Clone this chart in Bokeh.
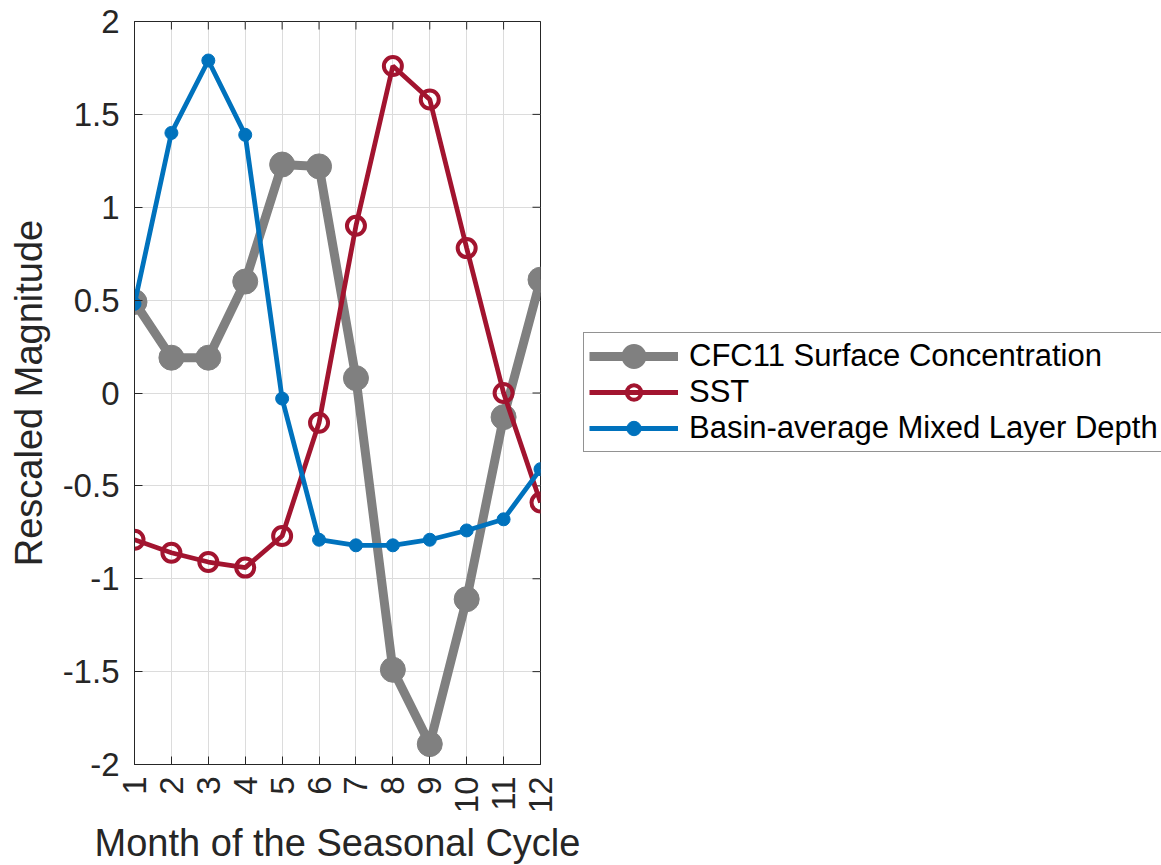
from bokeh.plotting import figure
from bokeh.models import Range1d, FixedTicker, Legend, LegendItem
from bokeh.embed import file_html
from bokeh.resources import INLINE
import math

months = list(range(1, 13))
cfc11 = [0.49, 0.19, 0.19, 0.60, 1.23, 1.22, 0.08, -1.49, -1.89, -1.11, -0.13, 0.61]
sst = [-0.79, -0.86, -0.91, -0.94, -0.77, -0.16, 0.90, 1.76, 1.58, 0.78, 0.00, -0.59]
mld = [0.48, 1.40, 1.79, 1.39, -0.03, -0.79, -0.82, -0.82, -0.79, -0.74, -0.68, -0.41]
y_ticks = [-2, -1.5, -1, -0.5, 0, 0.5, 1, 1.5, 2]
y_tick_labels = {-2: "-2", -1.5: "-1.5", -1: "-1", -0.5: "-0.5", 0: "0", 0.5: "0.5", 1: "1", 1.5: "1.5", 2: "2"}

FONT = "Liberation Sans"
AX = "#262626"

p = figure(output_backend="svg", toolbar_location=None,
           x_range=Range1d(months[0], months[-1]), y_range=Range1d(y_ticks[0], y_ticks[-1]),
           frame_width=406, frame_height=743,
           min_border_left=134, min_border_top=21, min_border_right=621, min_border_bottom=100,
           x_axis_label="Month of the Seasonal Cycle", y_axis_label="Rescaled Magnitude")

p.background_fill_color = "white"
p.border_fill_color = "white"
p.outline_line_color = AX
p.outline_line_width = 1

for ax in (p.xaxis[0], p.yaxis[0]):
    ax.axis_line_color = AX
    ax.major_tick_line_color = AX
    ax.major_tick_in = 8
    ax.major_tick_out = 0
    ax.minor_tick_line_color = None
    ax.major_label_text_font = FONT
    ax.major_label_text_font_size = "33px"
    ax.major_label_text_color = AX
    ax.axis_label_text_font = FONT
    ax.axis_label_text_font_size = "38px"
    ax.axis_label_text_font_style = "normal"
    ax.axis_label_text_color = AX

p.xaxis[0].ticker = FixedTicker(ticks=months)
p.xaxis[0].major_label_orientation = math.pi / 2
p.xaxis[0].major_label_standoff = 12
p.xaxis[0].axis_label_standoff = 6
p.yaxis[0].ticker = FixedTicker(ticks=y_ticks)
p.yaxis[0].major_label_overrides = y_tick_labels
p.yaxis[0].major_label_standoff = 15
p.yaxis[0].axis_label_standoff = 10

p.xgrid.ticker = FixedTicker(ticks=months)
p.ygrid.ticker = FixedTicker(ticks=y_ticks)
for g in (p.xgrid[0], p.ygrid[0]):
    g.grid_line_color = "#dcdcdc"
    g.grid_line_width = 1

# inward tick marks on the top and right edges of the box (half of each dash is clipped by the frame)
p.scatter(months, [y_ticks[-1]] * len(months), marker="dash", angle=math.pi / 2, size=16,
          line_color=AX, line_width=1)
p.scatter([months[-1]] * len(y_ticks), y_ticks, marker="dash", size=16,
          line_color=AX, line_width=1)

GRAY = "#808080"
RED = "#A2142F"
BLUE = "#0072BD"

l1 = p.line(months, cfc11, line_color=GRAY, line_width=9)
s1 = p.scatter(months, cfc11, size=25, marker="circle", fill_color=GRAY, line_color=GRAY)
l2 = p.line(months, sst, line_color=RED, line_width=4.8)
s2 = p.scatter(months, sst, size=18, marker="circle", fill_color=None, line_color=RED, line_width=4)
l3 = p.line(months, mld, line_color=BLUE, line_width=4.8)
s3 = p.scatter(months, mld, size=13, marker="circle", fill_color=BLUE, line_color=BLUE)
# legend-only copy of the grey markers, with a thick outline so the legend symbol is as big as in the plot
s1_leg = p.scatter(months, cfc11, size=25, marker="circle", fill_color=GRAY, line_color=GRAY,
                   line_width=10.5, visible=False)

legend = Legend(items=[
    LegendItem(label="CFC11 Surface Concentration", renderers=[l1, s1_leg]),
    LegendItem(label="SST", renderers=[l2, s2]),
    LegendItem(label="Basin-average Mixed Layer Depth", renderers=[l3, s3]),
], location=(43, 312))
legend.label_text_font = FONT
legend.label_text_font_size = "31px"
legend.label_text_color = "#000000"
legend.glyph_width = 89
legend.glyph_height = 36
legend.label_height = 30
legend.spacing = 0
legend.padding = 5
legend.label_standoff = 11
legend.margin = 0
legend.border_line_color = AX
legend.border_line_width = 1
legend.background_fill_color = "white"
legend.background_fill_alpha = 1
p.add_layout(legend, "right")

open("out.html", "w").write(file_html(p, INLINE))
